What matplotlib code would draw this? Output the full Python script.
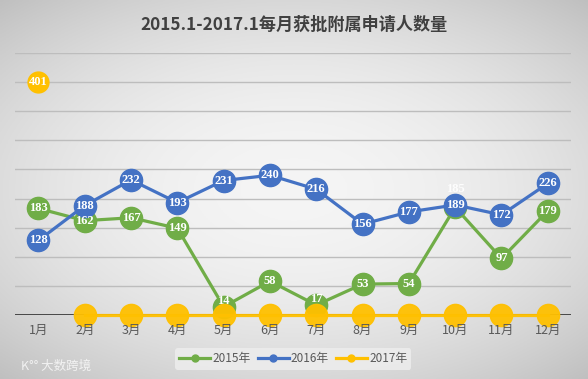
"""
2015.1-2017.1 每月获批附属申请人数量 — 折线图 (Excel 风格)。
"""

import matplotlib
matplotlib.use("Agg")
import matplotlib.pyplot as plt
import numpy as np
from matplotlib.lines import Line2D

plt.rcParams["font.family"] = ["Noto Sans CJK SC", "DejaVu Sans"]

meses = ["1月", "2月", "3月", "4月", "5月", "6月", "7月", "8月", "9月", "10月", "11月", "12月"]
v2015 = [183, 162, 167, 149, 14, 58, 17, 53, 54, 185, 97, 179]
v2016 = [128, 188, 232, 193, 231, 240, 216, 156, 177, 189, 172, 226]
v2017_jan = [401]
v2017_resto = [0] * 11

VERDE = "#70AD47"
AZUL = "#4472C4"
AMARELO = "#FFC000"

fig = plt.figure(figsize=(5.88, 3.79), dpi=100)

# fundo com gradiente radial (claro no centro, cinza nas bordas)
bg = fig.add_axes([0, 0, 1, 1], zorder=-10)
yy, xx = np.mgrid[-1:1:200j, -1:1:300j]
r = np.sqrt((xx / 1.1) ** 2 + (yy / 1.0) ** 2)
tom = 0.96 - 0.16 * np.clip(r, 0, 1.4) ** 2 / 1.4
bg.imshow(np.dstack([tom, tom, tom]), aspect="auto", extent=[0, 1, 0, 1])
bg.axis("off")

ax = fig.add_axes([0.026, 0.169, 0.945, 0.691])
ax.patch.set_alpha(0)
x = np.arange(len(meses))

ax.axhline(0, color="#3a3a3a", lw=2, zorder=2)
ax.plot(x, v2015, color=VERDE, lw=2.3, marker="o", ms=16, mec=VERDE, zorder=3, clip_on=False)
ax.plot(x, v2016, color=AZUL, lw=2.3, marker="o", ms=16, mec=AZUL, zorder=4, clip_on=False)
ax.plot(x[1:], v2017_resto, color=AMARELO, lw=2.3, marker="o", ms=16, mec=AMARELO,
        alpha=0.95, zorder=5, clip_on=False)
ax.plot(x[:1], v2017_jan, color=AMARELO, lw=0, marker="o", ms=15, mec=AMARELO, zorder=5)

rotulo = dict(color="white", fontsize=9, fontweight="bold", family="Liberation Serif",
              ha="center", va="center", zorder=10)
for i, v in enumerate(v2015):
    if i == 9:
        ax.text(i, v + 31, str(v), alpha=0.9, **rotulo)
    elif v < 30:
        ax.text(i, v + 10, str(v), **rotulo)
    else:
        ax.text(i, v, str(v), **rotulo)
for i, v in enumerate(v2016):
    ax.text(i, v, str(v), **rotulo)
ax.text(0, v2017_jan[0], str(v2017_jan[0]), **rotulo)

ax.set_xlim(-0.5, len(meses) - 0.5)
ax.set_ylim(0, 450)
ax.set_yticks(np.arange(50, 451, 50))
ax.yaxis.grid(True, color="#bdbdbd", lw=1)
ax.set_axisbelow(True)
ax.tick_params(left=False, labelleft=False, bottom=False, labelsize=9, colors="#595959", pad=3)
ax.set_xticks(x)
ax.set_xticklabels(meses)
ax.xaxis.set_zorder(20)  # rótulos do eixo por cima dos marcadores amarelos
for s in ax.spines.values():
    s.set_visible(False)

fig.text(0.5, 0.934, "2015.1-2017.1每月获批附属申请人数量", ha="center", va="center",
         fontsize=12.3, fontweight="bold", color="#404040")

handles = [Line2D([], [], color=c, lw=2.3, marker="o", ms=5) for c in (VERDE, AZUL, AMARELO)]
leg = fig.legend(handles, ["2015年", "2016年", "2017年"], loc="center", ncol=3,
                 bbox_to_anchor=(0.499, 0.053), frameon=True, fontsize=8.5,
                 handlelength=2.6, handletextpad=0.2, columnspacing=0.6,
                 borderpad=0.35, labelcolor="#595959")
leg.get_frame().set_facecolor("#ececec")
leg.get_frame().set_edgecolor("none")
leg.get_frame().set_alpha(0.9)

fig.text(0.035, 0.033, "K°° 大数跨境", color="white", alpha=0.75, fontsize=9,
         ha="left", va="center")

fig.savefig("out.png", dpi=100)
